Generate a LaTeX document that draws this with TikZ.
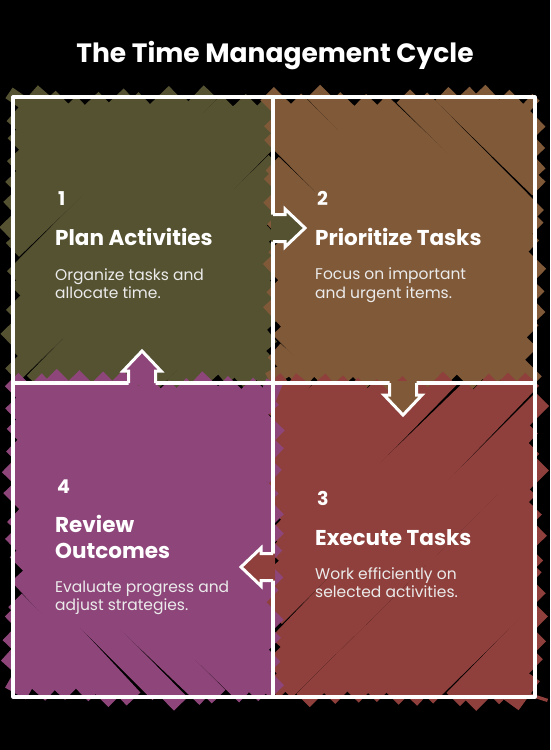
\documentclass[tikz,border=0pt]{standalone}
\usepackage{fontspec}
\setmainfont{Poppins}
\definecolor{qolive}{RGB}{85,82,50}
\definecolor{qbrown}{RGB}{128,89,56}
\definecolor{qred}{RGB}{143,64,60}
\definecolor{qpurple}{RGB}{142,70,122}
\tikzset{
  frame/.style={white, line width=3.2pt, line cap=round, line join=round},
  numtext/.style={anchor=base west, inner sep=0pt, text=white, font=\bfseries\fontsize{19}{22}\selectfont},
  headtext/.style={anchor=base west, inner sep=0pt, text=white, font=\bfseries\fontsize{21.5}{24}\selectfont},
  bodytext/.style={anchor=base west, inner sep=0pt, text=white!92!black, font=\fontsize{15.5}{18}\selectfont},
  arrowline/.style={white, line width=3pt, line join=miter},
}
% hatch fill: x0 y0 x1 y1 color dir(+1 / -1)
\newcommand{\hatchq}[6]{%
  \pgfmathsetmacro{\kmin}{min(#2-(#6)*#1,#2-(#6)*#3,#4-(#6)*#1,#4-(#6)*#3)}%
  \pgfmathsetmacro{\kmax}{max(#2-(#6)*#1,#2-(#6)*#3,#4-(#6)*#1,#4-(#6)*#3)}%
  \pgfmathsetmacro{\kstart}{\kmin+9}%
  \pgfmathsetmacro{\knext}{\kmin+30}%
  \foreach \k in {\kstart,\knext,...,\kmax}{%
    \pgfmathsetmacro{\lo}{min((#2-\k)/(#6),(#4-\k)/(#6))}%
    \pgfmathsetmacro{\hi}{max((#2-\k)/(#6),(#4-\k)/(#6))}%
    \pgfmathsetmacro{\xa}{max(#1,\lo)}%
    \pgfmathsetmacro{\xb}{min(#3,\hi)}%
    \pgfmathsetmacro{\ea}{-6+rnd*14}%
    \pgfmathsetmacro{\eb}{-6+rnd*14}%
    \pgfmathsetmacro{\ja}{-4+rnd*8}%
    \pgfmathsetmacro{\jb}{-4+rnd*8}%
    \pgfmathsetmacro{\ax}{\xa-0.7071*\ea-(#6)*0.7071*\ja}%
    \pgfmathsetmacro{\ay}{(#6)*\xa+\k-(#6)*0.7071*\ea+0.7071*\ja}%
    \pgfmathsetmacro{\bx}{\xb+0.7071*\eb-(#6)*0.7071*\jb}%
    \pgfmathsetmacro{\by}{(#6)*\xb+\k+(#6)*0.7071*\eb+0.7071*\jb}%
    \draw[line width=19pt, #5] (\ax,\ay) -- (\bx,\by);
  }%
}
% hollow block arrow: x y rotation color
\newcommand{\blockarrow}[4]{%
  \begin{scope}[shift={(#1,#2)}, rotate=#3]
    \fill[#4] (-2,-13.5) -- (12,-13.5) -- (12,-19) -- (32,0) -- (12,19) -- (12,13.5) -- (-2,13.5) -- cycle;
    \draw[arrowline] (0,-13.5) -- (12,-13.5) -- (12,-19) -- (32,0) -- (12,19) -- (12,13.5) -- (0,13.5);
  \end{scope}%
}
\begin{document}
\begin{tikzpicture}[x=1pt,y=-1pt]
  \fill[black] (0,0) rectangle (550,750);
  \useasboundingbox (0,0) rectangle (550,750);
  \pgfmathsetseed{4242}
  % quadrant fills
  \hatchq{13}{97}{273}{383}{qolive}{-1}
  \hatchq{273}{97}{535}{383}{qbrown}{1}
  \hatchq{273}{383}{535}{697}{qred}{-1}
  \hatchq{13}{383}{273}{697}{qpurple}{1}
  % frames
  \coordinate (tl) at (13,97);
  \coordinate (br) at (535,697);
  \coordinate (vt) at (273,97);
  \coordinate (vb) at (273,697);
  \coordinate (hl) at (13,383);
  \coordinate (hr) at (535,383);
  \draw[frame] (tl) rectangle (br);
  \draw[frame] (vt) -- (vb);
  \draw[frame] (hl) -- (hr);
  % arrows
  \blockarrow{273}{228}{0}{qolive}
  \blockarrow{403}{383}{270}{qbrown}
  \blockarrow{273}{567}{180}{qred}
  \blockarrow{142}{383}{90}{qpurple}
  % title
  \node[anchor=base, inner sep=0pt, text=white, font=\bfseries\fontsize{26.5}{30}\selectfont] (title) at (275,62) {The Time Management Cycle};
  % quadrant 1
  \node[numtext] (n1) at (58,205) {1};
  \node[headtext] (h1) at (55,245) {Plan Activities};
  \node[bodytext] (b1a) at (55,280) {Organize tasks and};
  \node[bodytext] (b1b) at (55,298) {allocate time.};
  % quadrant 2
  \node[numtext] (n2) at (317,205) {2};
  \node[headtext] (h2) at (315,245) {Prioritize Tasks};
  \node[bodytext] (b2a) at (315,279) {Focus on important};
  \node[bodytext] (b2b) at (315,298) {and urgent items.};
  % quadrant 3
  \node[numtext] (n3) at (317,505) {3};
  \node[headtext] (h3) at (315,545) {Execute Tasks};
  \node[bodytext] (b3a) at (315,579) {Work efficiently on};
  \node[bodytext] (b3b) at (315,597) {selected activities.};
  % quadrant 4
  \node[numtext] (n4) at (57,493) {4};
  \node[headtext] (h4a) at (55,532) {Review};
  \node[headtext] (h4b) at (55,558) {Outcomes};
  \node[bodytext] (b4a) at (55,592) {Evaluate progress and};
  \node[bodytext] (b4b) at (55,610) {adjust strategies.};
\end{tikzpicture}
\end{document}
